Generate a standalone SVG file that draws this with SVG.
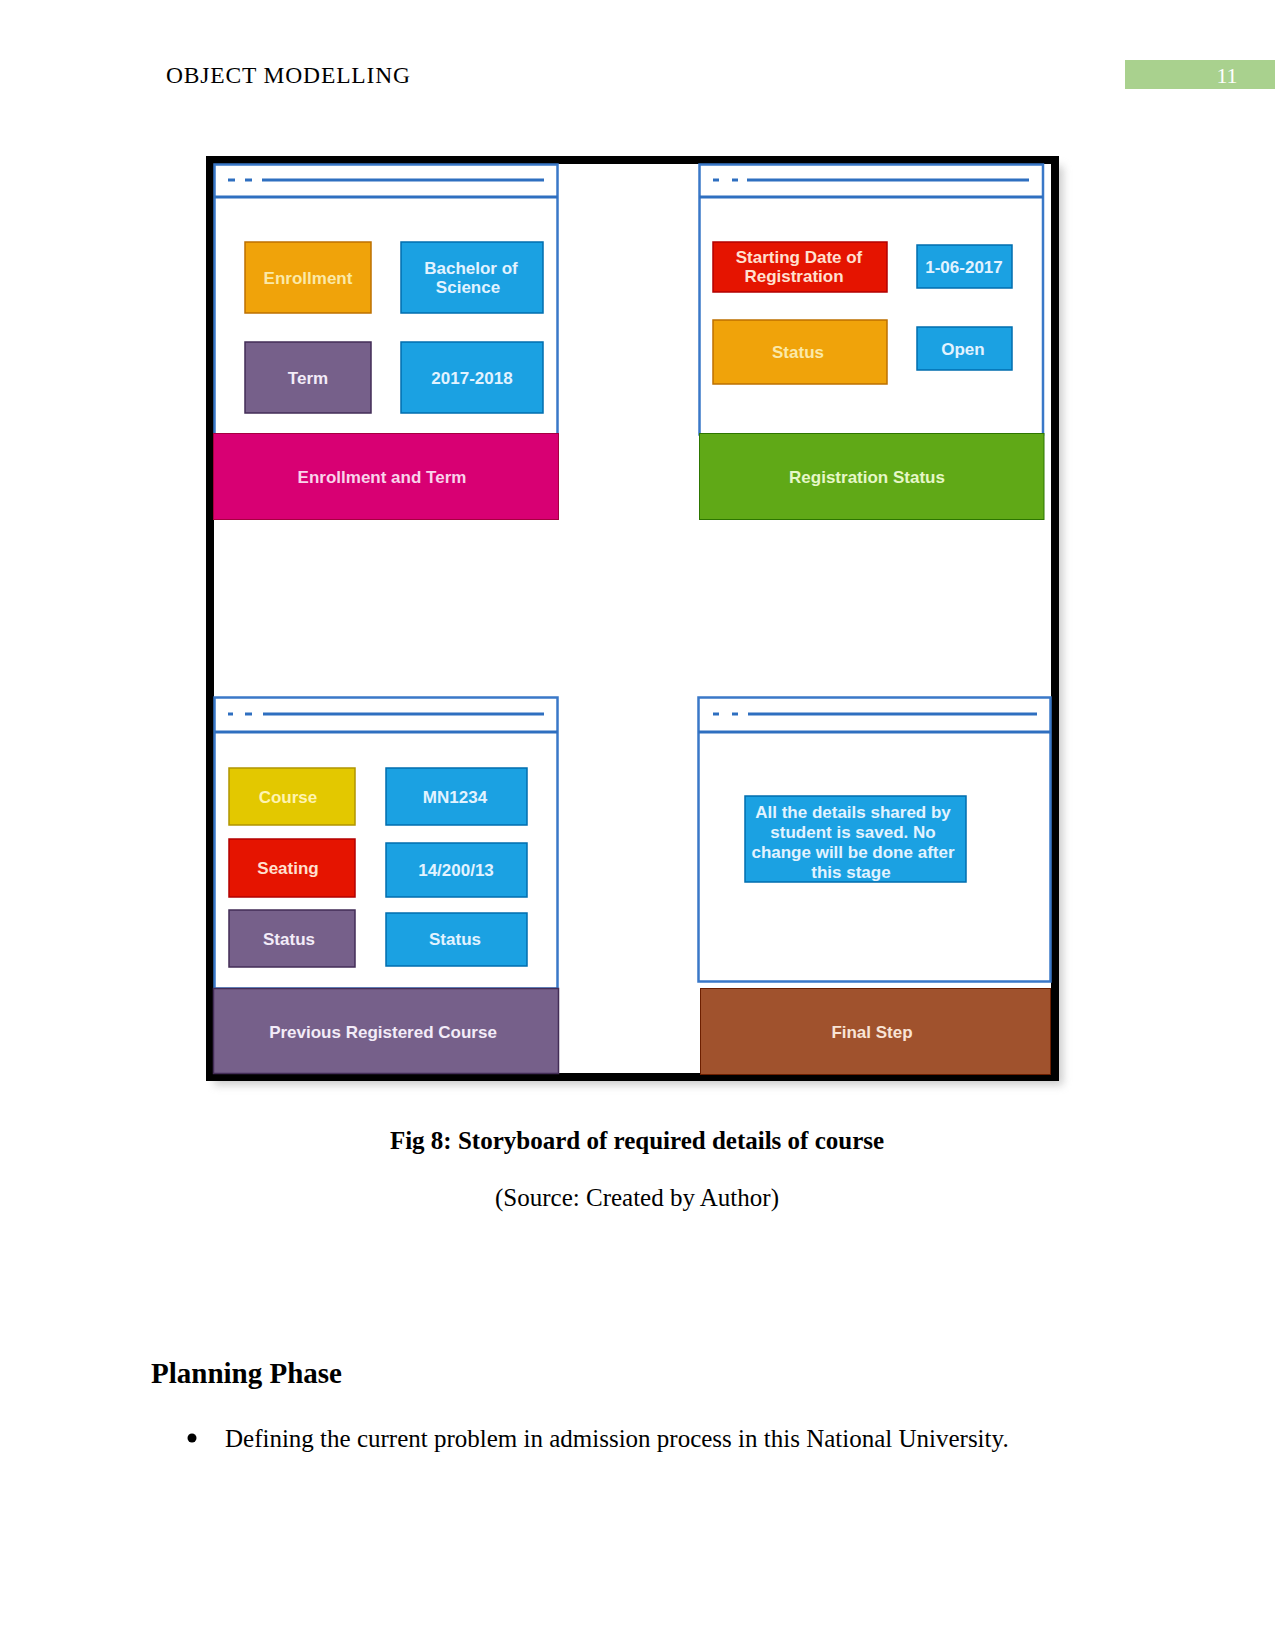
<svg xmlns="http://www.w3.org/2000/svg" width="1275" height="1651" viewBox="0 0 1275 1651">
<defs>
<filter id="sh" x="-5%" y="-5%" width="110%" height="110%">
<feGaussianBlur stdDeviation="4"/>
</filter>
<style>
.serif{font-family:"Liberation Serif","Times New Roman",serif;fill:#000}
.lbl{font-family:"Liberation Sans",Arial,sans-serif;font-weight:bold;font-size:17px;text-anchor:middle;dominant-baseline:central}
.panel{fill:#fff;stroke:#3a78c8;stroke-width:2.5}
.hdr{stroke:#2e6fc0;stroke-width:3;fill:none}
.orange{fill:#f0a30a;stroke:#bd7000;stroke-width:1.5}
.blue{fill:#1ba1e2;stroke:#006eaf;stroke-width:1.5}
.purple{fill:#76608a;stroke:#432d57;stroke-width:1.5}
.red{fill:#e51400;stroke:#b20000;stroke-width:1.5}
.yellow{fill:#e3c800;stroke:#b09500;stroke-width:1.5}
.pink{fill:#d80073;stroke:#a50040;stroke-width:1}
.green{fill:#60a917;stroke:#2d7600;stroke-width:1}
.brown{fill:#a0522d;stroke:#6d1f00;stroke-width:1}
.tw{fill:#e2f3ff}
.to{fill:#fbe9a8}
.tp{fill:#f3ecf8}
</style>
</defs>
<rect width="1275" height="1651" fill="#fff"/>

<!-- page header -->
<g id="page-header">
<text class="serif" x="166" y="83" font-size="23.5" textLength="244">OBJECT MODELLING</text>
<rect x="1125" y="60" width="150" height="29" fill="#a9d18e"/>
<text x="1227" y="83" font-family="Liberation Serif, serif" font-size="22" fill="#fff" text-anchor="middle">11</text>
</g>

<!-- storyboard frame -->
<g id="frame">
<rect x="214" y="166" width="849" height="919" fill="#999" opacity="0.5" filter="url(#sh)"/>
<rect x="210" y="160" width="845" height="917" fill="#fff" stroke="#000" stroke-width="8"/>
</g>

<!-- panel 1 -->
<g id="panel-enrollment">
<rect class="panel" x="214.5" y="164.5" width="343" height="270"/>
<line class="hdr" x1="214.5" y1="197" x2="557.5" y2="197" stroke-width="2.5"/>
<line class="hdr" x1="228" y1="180" x2="235" y2="180"/>
<line class="hdr" x1="245" y1="180" x2="252" y2="180"/>
<line class="hdr" x1="262" y1="180" x2="544" y2="180"/>
<rect class="orange" x="245" y="242" width="126" height="71"/>
<text class="lbl to" x="308" y="278">Enrollment</text>
<rect class="blue" x="401" y="242" width="142" height="71"/>
<text class="lbl tw" x="471" y="268">Bachelor of</text>
<text class="lbl tw" x="468" y="287">Science</text>
<rect class="purple" x="245" y="342" width="126" height="71"/>
<text class="lbl tp" x="308" y="378">Term</text>
<rect class="blue" x="401" y="342" width="142" height="71"/>
<text class="lbl tw" x="472" y="378">2017-2018</text>
<rect class="pink" x="213.5" y="433.5" width="345" height="86"/>
<text class="lbl" x="382" y="477" fill="#f9d3ea">Enrollment and Term</text>
</g>

<!-- panel 2 -->
<g id="panel-registration">
<rect class="panel" x="699.5" y="164.5" width="343.5" height="270"/>
<line class="hdr" x1="699.5" y1="197" x2="1043" y2="197" stroke-width="2.5"/>
<line class="hdr" x1="713" y1="180" x2="719" y2="180"/>
<line class="hdr" x1="732" y1="180" x2="738" y2="180"/>
<line class="hdr" x1="747" y1="180" x2="1029" y2="180"/>
<rect class="red" x="713" y="242" width="174" height="50"/>
<text class="lbl" x="799" y="257" fill="#ffe0d0">Starting Date of</text>
<text class="lbl" x="794" y="276" fill="#ffe0d0">Registration</text>
<rect class="blue" x="917" y="245" width="95" height="43"/>
<text class="lbl tw" x="964" y="267">1-06-2017</text>
<rect class="orange" x="713" y="320" width="174" height="64"/>
<text class="lbl to" x="798" y="352">Status</text>
<rect class="blue" x="917" y="327" width="95" height="43"/>
<text class="lbl tw" x="963" y="349">Open</text>
<rect class="green" x="699.5" y="433.5" width="344.5" height="86"/>
<text class="lbl" x="867" y="477" fill="#e6f7c8">Registration Status</text>
</g>

<!-- panel 3 -->
<g id="panel-previous">
<rect class="panel" x="214.5" y="697.5" width="343" height="291"/>
<line class="hdr" x1="214.5" y1="732" x2="557.5" y2="732" stroke-width="2.5"/>
<line class="hdr" x1="228" y1="714" x2="233" y2="714"/>
<line class="hdr" x1="245" y1="714" x2="252" y2="714"/>
<line class="hdr" x1="263" y1="714" x2="544" y2="714"/>
<rect class="yellow" x="229" y="768" width="126" height="57"/>
<text class="lbl" x="288" y="797" fill="#fff4b0">Course</text>
<rect class="blue" x="386" y="768" width="141" height="57"/>
<text class="lbl tw" x="455" y="797">MN1234</text>
<rect class="red" x="229" y="839" width="126" height="58"/>
<text class="lbl" x="288" y="868" fill="#ffe0d0">Seating</text>
<rect class="blue" x="386" y="843" width="141" height="54"/>
<text class="lbl tw" x="456" y="870">14/200/13</text>
<rect class="purple" x="229" y="910" width="126" height="57"/>
<text class="lbl tp" x="289" y="939">Status</text>
<rect class="blue" x="386" y="913" width="141" height="53"/>
<text class="lbl tw" x="455" y="939">Status</text>
<rect class="purple" x="213.5" y="988.5" width="345" height="85" stroke-width="1"/>
<text class="lbl tp" x="383" y="1032">Previous Registered Course</text>
</g>

<!-- panel 4 -->
<g id="panel-final">
<rect class="panel" x="698.5" y="697.5" width="352" height="284"/>
<line class="hdr" x1="698.5" y1="732" x2="1050.5" y2="732" stroke-width="2.5"/>
<line class="hdr" x1="713" y1="714" x2="719" y2="714"/>
<line class="hdr" x1="732" y1="714" x2="738" y2="714"/>
<line class="hdr" x1="748" y1="714" x2="1037" y2="714"/>
<rect class="blue" x="745" y="796" width="221" height="86"/>
<text class="lbl tw" x="853" y="812">All the details shared by</text>
<text class="lbl tw" x="853" y="832">student is saved. No</text>
<text class="lbl tw" x="853" y="852">change will be done after</text>
<text class="lbl tw" x="851" y="872">this stage</text>
<rect class="brown" x="700.5" y="988.5" width="350" height="86"/>
<text class="lbl" x="872" y="1032" fill="#f8e4d6">Final Step</text>
</g>

<!-- caption and body text -->
<g id="caption">
<text class="serif" x="637" y="1149" font-size="25" font-weight="bold" text-anchor="middle">Fig 8: Storyboard of required details of course</text>
<text class="serif" x="637" y="1206" font-size="25" text-anchor="middle">(Source: Created by Author)</text>
</g>
<g id="body">
<text class="serif" x="151" y="1383" font-size="29" font-weight="bold">Planning Phase</text>
<circle cx="192" cy="1438" r="4.5" fill="#000"/>
<text class="serif" x="225" y="1447" font-size="25">Defining the current problem in admission process in this National University.</text>
</g>
</svg>
